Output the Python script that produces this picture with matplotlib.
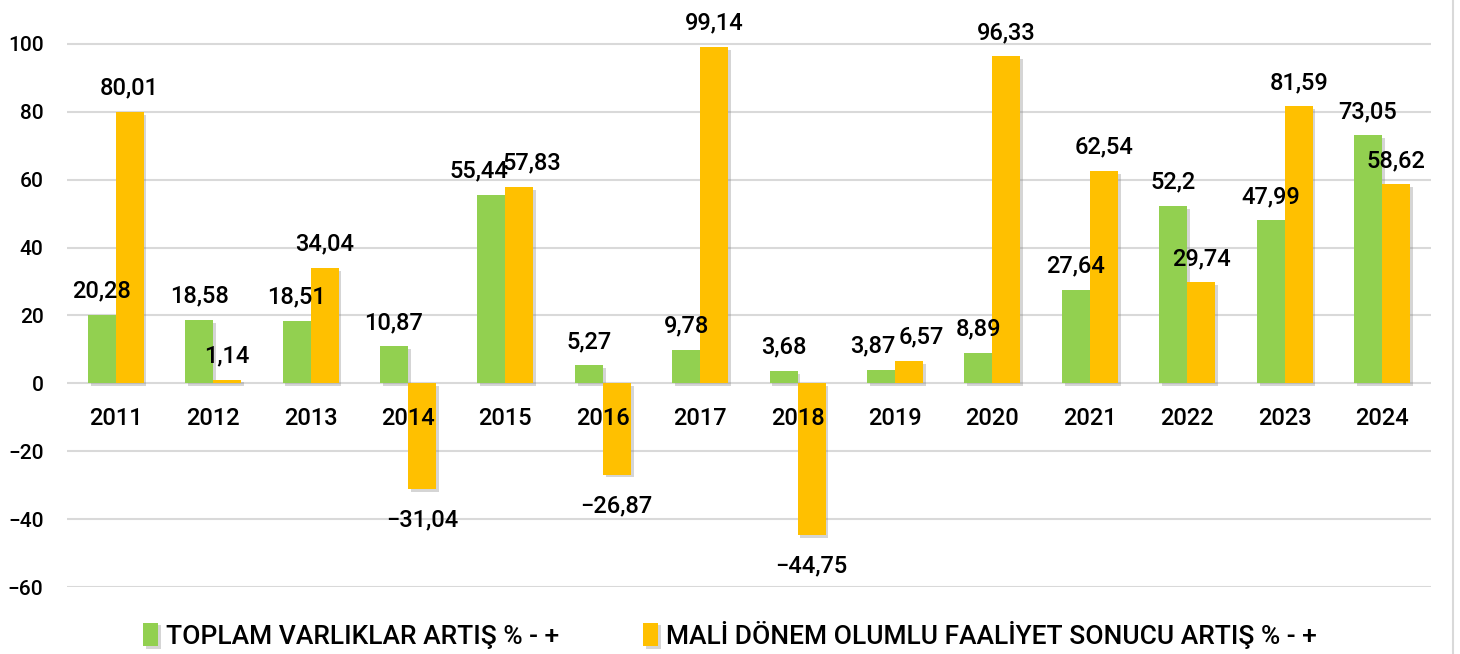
import numpy as np
import matplotlib.pyplot as plt
import matplotlib.patheffects as pe
from matplotlib.lines import Line2D

years = ["2011", "2012", "2013", "2014", "2015", "2016", "2017",
         "2018", "2019", "2020", "2021", "2022", "2023", "2024"]
varliklar = [20.28, 18.58, 18.51, 10.87, 55.44, 5.27, 9.78,
             3.68, 3.87, 8.89, 27.64, 52.2, 47.99, 73.05]
faaliyet = [80.01, 1.14, 34.04, -31.04, 57.83, -26.87, 99.14,
            -44.75, 6.57, 96.33, 62.54, 29.74, 81.59, 58.62]
yticks = [-60, -40, -20, 0, 20, 40, 60, 80, 100]

green = "#92D050"
yellow = "#FFC000"

plt.rcParams['font.family'] = ['Roboto', 'DejaVu Sans']

fig = plt.figure(figsize=(14.6, 6.54), dpi=100)
ax = fig.add_axes([0.0459, 0.1024, 0.9341, 0.8823])

x = np.arange(len(years))
w = 0.287
shadow = [pe.SimplePatchShadow(offset=(2, -2), shadow_rgbFace='#888888', alpha=0.35), pe.Normal()]

b1 = ax.bar(x - w / 2, varliklar, w, color=green, label="TOPLAM VARLIKLAR ARTIŞ % - +", zorder=3)
b2 = ax.bar(x + w / 2, faaliyet, w, color=yellow, label="MALİ DÖNEM OLUMLU FAALİYET SONUCU ARTIŞ % - +", zorder=3)
for b in list(b1) + list(b2):
    b.set_path_effects(shadow)

def fmt(v):
    s = f"{v:.2f}".rstrip('0').rstrip('.')
    return s.replace('.', ',').replace('-', '−')

# crowded label pairs get pushed apart a little
nudge = {(0, 4): -9, (1, 4): 9, (0, 8): -6, (1, 8): 9}

for k, (bars, vals) in enumerate(((b1, varliklar), (b2, faaliyet))):
    for i, (b, v) in enumerate(zip(bars, vals)):
        cx = b.get_x() + b.get_width() / 2
        dx = nudge.get((k, i), 0)
        if v >= 0:
            ax.annotate(fmt(v), (cx, v), xytext=(dx, 9), textcoords='offset points',
                        ha='center', va='bottom', fontsize=17, fontweight='medium', zorder=5)
        else:
            ax.annotate(fmt(v), (cx, v), xytext=(dx, -14), textcoords='offset points',
                        ha='center', va='top', fontsize=17, fontweight='medium', zorder=5)

for i, yr in enumerate(years):
    ax.annotate(yr, (i, 0), xytext=(0, -25), textcoords='offset points',
                ha='center', va='center', fontsize=17, fontweight='medium', zorder=5)

ax.set_xlim(-0.5, len(years) - 0.5)
ax.set_ylim(-60, 110)
ax.set_yticks(yticks)
ax.set_yticklabels([str(t).replace('-', '−') for t in yticks], fontsize=15, fontweight='medium')
ax.set_xticks([])
ax.tick_params(axis='y', length=0, pad=17)
ax.grid(axis='y', color='#d9d9d9', linewidth=1.5, zorder=0)
for s in ax.spines.values():
    s.set_visible(False)

fig.legend(loc='lower center', bbox_to_anchor=(0.5, -0.028), ncol=2, frameon=False,
           prop={'size': 19, 'weight': 'medium'}, handlelength=0.55, handleheight=1.0,
           handletextpad=0.3, columnspacing=3.2)

fig.add_artist(Line2D([0.9952, 0.9952], [0, 1], transform=fig.transFigure,
                      color='#d9d9d9', linewidth=1.5))

fig.savefig('out.png', dpi=100)
